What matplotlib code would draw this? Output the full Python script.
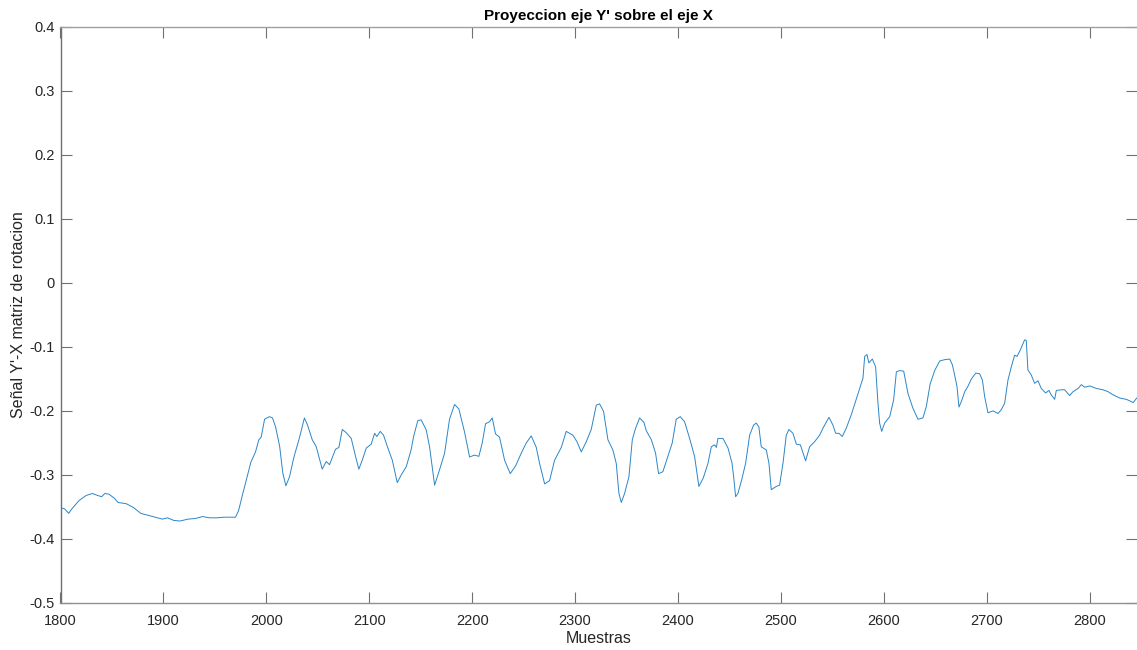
import matplotlib
matplotlib.use("Agg")
import matplotlib.pyplot as plt

muestras = [1800, 1804, 1808, 1811, 1818, 1825, 1831, 1836, 1840, 1843, 1847, 1852, 1856, 1864,
            1871, 1878, 1885, 1892, 1899, 1904, 1910, 1916, 1924, 1931, 1938, 1945, 1952, 1959,
            1970, 1973, 1977, 1981, 1985, 1989.5, 1992.7, 1995, 1998.3, 2003, 2006, 2009, 2013,
            2016, 2019, 2022.5, 2027, 2032, 2037, 2040, 2044.6, 2048.5, 2054.3, 2058.2, 2061.4,
            2067.2, 2070.5, 2073.8, 2077.6, 2082.5, 2086.7, 2089.9, 2093.2, 2097.1, 2101.9,
            2105.2, 2107.4, 2110.7, 2113.9, 2118.1, 2122.4, 2127.2, 2131.1, 2136, 2140.8, 2143.1,
            2147.2, 2150.5, 2155.4, 2158.6, 2163.5, 2168.3, 2173.2, 2178, 2182.9, 2187.1, 2192.6,
            2197.5, 2202.3, 2206.5, 2209.8, 2213, 2216.9, 2219.5, 2222.7, 2226.6, 2231.5, 2237,
            2242.2, 2247.7, 2252.6, 2257.4, 2262.3, 2265.5, 2270.4, 2275.2, 2280.1, 2286.6,
            2291.4, 2297.9, 2301.8, 2306, 2310.9, 2315.7, 2320.6, 2323.8, 2327.7, 2331.9, 2336.7,
            2340, 2342.6, 2344.9, 2348.1, 2352.3, 2355.6, 2358.8, 2362.7, 2366.9, 2369.2, 2374.1,
            2378.2, 2381.1, 2385.3, 2390.2, 2394.4, 2398.3, 2402.2, 2406.4, 2411.3, 2416.1,
            2418.4, 2420.3, 2424.5, 2429.1, 2432.4, 2435.6, 2437.3, 2438.8, 2443.7, 2448.6,
            2452.4, 2454.1, 2456, 2458.2, 2461.5, 2465.7, 2469.6, 2473.5, 2476, 2478.6, 2480.9,
            2485.8, 2488.4, 2490.6, 2495.5, 2498.7, 2502, 2505.2, 2507.8, 2511.7, 2515, 2518.9,
            2524, 2527.9, 2532.8, 2537.6, 2541.5, 2546.7, 2550.5, 2553.2, 2556.4, 2559.6, 2563.5,
            2568.4, 2572.6, 2576.5, 2579.7, 2581.4, 2583.6, 2585.5, 2588.8, 2592, 2594.3, 2595.9,
            2597.9, 2600.8, 2605.7, 2609.5, 2612.2, 2615.4, 2619.3, 2623.5, 2628.3, 2633.2, 2638,
            2641.3, 2645, 2649.4, 2654.3, 2659.1, 2664, 2666.6, 2668.8, 2671.1, 2673, 2675.4,
            2678.6, 2681.9, 2685.1, 2689.3, 2693.1, 2695.8, 2698, 2701.2, 2706.1, 2710.9, 2714.2,
            2717.4, 2720.6, 2723.9, 2727.1, 2729.4, 2732.6, 2736.8, 2738.4, 2740, 2743.3, 2746.5,
            2749.8, 2753, 2757.2, 2760.4, 2762.7, 2766, 2767.6, 2772.5, 2775.7, 2780.6, 2783.8,
            2788.7, 2792, 2795.2, 2800.1, 2806.6, 2813, 2817.9, 2822.8, 2829.3, 2835.8, 2842.3,
            2845.7]

senal = [-0.351, -0.353, -0.360, -0.353, -0.340, -0.332, -0.329, -0.332, -0.334, -0.329, -0.330,
         -0.336, -0.343, -0.345, -0.351, -0.360, -0.363, -0.366, -0.369, -0.367, -0.371, -0.372,
         -0.369, -0.368, -0.365, -0.367, -0.367, -0.366, -0.366, -0.356, -0.330, -0.305, -0.280,
         -0.264, -0.245, -0.241, -0.213, -0.209, -0.211, -0.225, -0.256, -0.297, -0.317, -0.303,
         -0.271, -0.243, -0.211, -0.222, -0.245, -0.256, -0.291, -0.279, -0.284, -0.260, -0.257,
         -0.229, -0.234, -0.243, -0.271, -0.291, -0.277, -0.258, -0.252, -0.235, -0.240, -0.232,
         -0.238, -0.258, -0.277, -0.312, -0.300, -0.287, -0.260, -0.240, -0.215, -0.214, -0.230,
         -0.256, -0.316, -0.292, -0.266, -0.213, -0.190, -0.197, -0.233, -0.272, -0.269, -0.271,
         -0.250, -0.220, -0.217, -0.211, -0.236, -0.241, -0.277, -0.298, -0.286, -0.266, -0.250,
         -0.239, -0.257, -0.282, -0.314, -0.309, -0.277, -0.257, -0.232, -0.238, -0.248, -0.264,
         -0.248, -0.229, -0.191, -0.189, -0.201, -0.245, -0.261, -0.282, -0.329, -0.343, -0.329,
         -0.303, -0.245, -0.227, -0.211, -0.218, -0.231, -0.245, -0.266, -0.298, -0.295, -0.271,
         -0.250, -0.213, -0.209, -0.217, -0.243, -0.271, -0.297, -0.318, -0.305, -0.282, -0.256,
         -0.253, -0.257, -0.243, -0.243, -0.258, -0.281, -0.303, -0.334, -0.329, -0.310, -0.282,
         -0.238, -0.222, -0.219, -0.225, -0.256, -0.261, -0.282, -0.323, -0.318, -0.316, -0.282,
         -0.238, -0.229, -0.235, -0.252, -0.253, -0.278, -0.256, -0.248, -0.238, -0.225, -0.210,
         -0.222, -0.235, -0.235, -0.240, -0.227, -0.206, -0.185, -0.165, -0.149, -0.115, -0.112,
         -0.125, -0.119, -0.131, -0.188, -0.219, -0.232, -0.219, -0.209, -0.183, -0.139, -0.137,
         -0.138, -0.173, -0.196, -0.213, -0.211, -0.193, -0.158, -0.137, -0.122, -0.120, -0.119,
         -0.128, -0.144, -0.162, -0.194, -0.185, -0.170, -0.161, -0.150, -0.141, -0.142, -0.152,
         -0.178, -0.203, -0.200, -0.204, -0.198, -0.188, -0.152, -0.131, -0.113, -0.115, -0.105,
         -0.089, -0.090, -0.136, -0.144, -0.157, -0.153, -0.165, -0.172, -0.168, -0.175, -0.182,
         -0.168, -0.167, -0.167, -0.176, -0.170, -0.165, -0.159, -0.163, -0.161, -0.165, -0.167,
         -0.170, -0.175, -0.180, -0.182, -0.187, -0.180]

x_ticks = [1800, 1900, 2000, 2100, 2200, 2300, 2400, 2500, 2600, 2700, 2800]
y_ticks = [-0.5, -0.4, -0.3, -0.2, -0.1, 0, 0.1, 0.2, 0.3, 0.4]
y_tick_labels = ["-0.5", "-0.4", "-0.3", "-0.2", "-0.1", "0", "0.1", "0.2", "0.3", "0.4"]

plt.rcParams['font.family'] = ['Liberation Sans', 'DejaVu Sans']

fig = plt.figure(figsize=(11.37, 6.5), dpi=100)
ax = fig.add_axes([60.5 / 1137, 1 - 603 / 650, 1 - 60.5 / 1137, (603 - 26.7) / 650])

ax.plot(muestras, senal, color='#2a86c8', linewidth=0.7)

ax.set_xlim(1800, 2846)
ax.set_ylim(-0.5, 0.4)
ax.set_xticks(x_ticks)
ax.set_yticks(y_ticks)
ax.set_yticklabels(y_tick_labels)

axis_col = '#262626'
for side in ['left', 'bottom', 'top']:
    ax.spines[side].set_linewidth(1.0)
ax.spines['top'].set_color('#a0a0a0')
ax.spines['left'].set_color('#707070')
ax.spines['bottom'].set_color('#909090')
ax.spines['right'].set_visible(False)

ax.tick_params(direction='in', length=8, width=0.8, color='#707070', labelcolor=axis_col,
               labelsize=10.5, top=True, right=True)
ax.tick_params(axis='x', pad=8)
ax.tick_params(axis='y', pad=4)

ax.set_title("Proyeccion eje Y' sobre el eje X", fontsize=11, fontweight='bold',
             color='black', pad=5)
ax.set_xlabel("Muestras", fontsize=11.5, color=axis_col, labelpad=2)
ax.set_ylabel("Señal Y'-X matriz de rotacion", fontsize=11.5, color=axis_col, labelpad=3)

fig.savefig("out.png", dpi=100)
